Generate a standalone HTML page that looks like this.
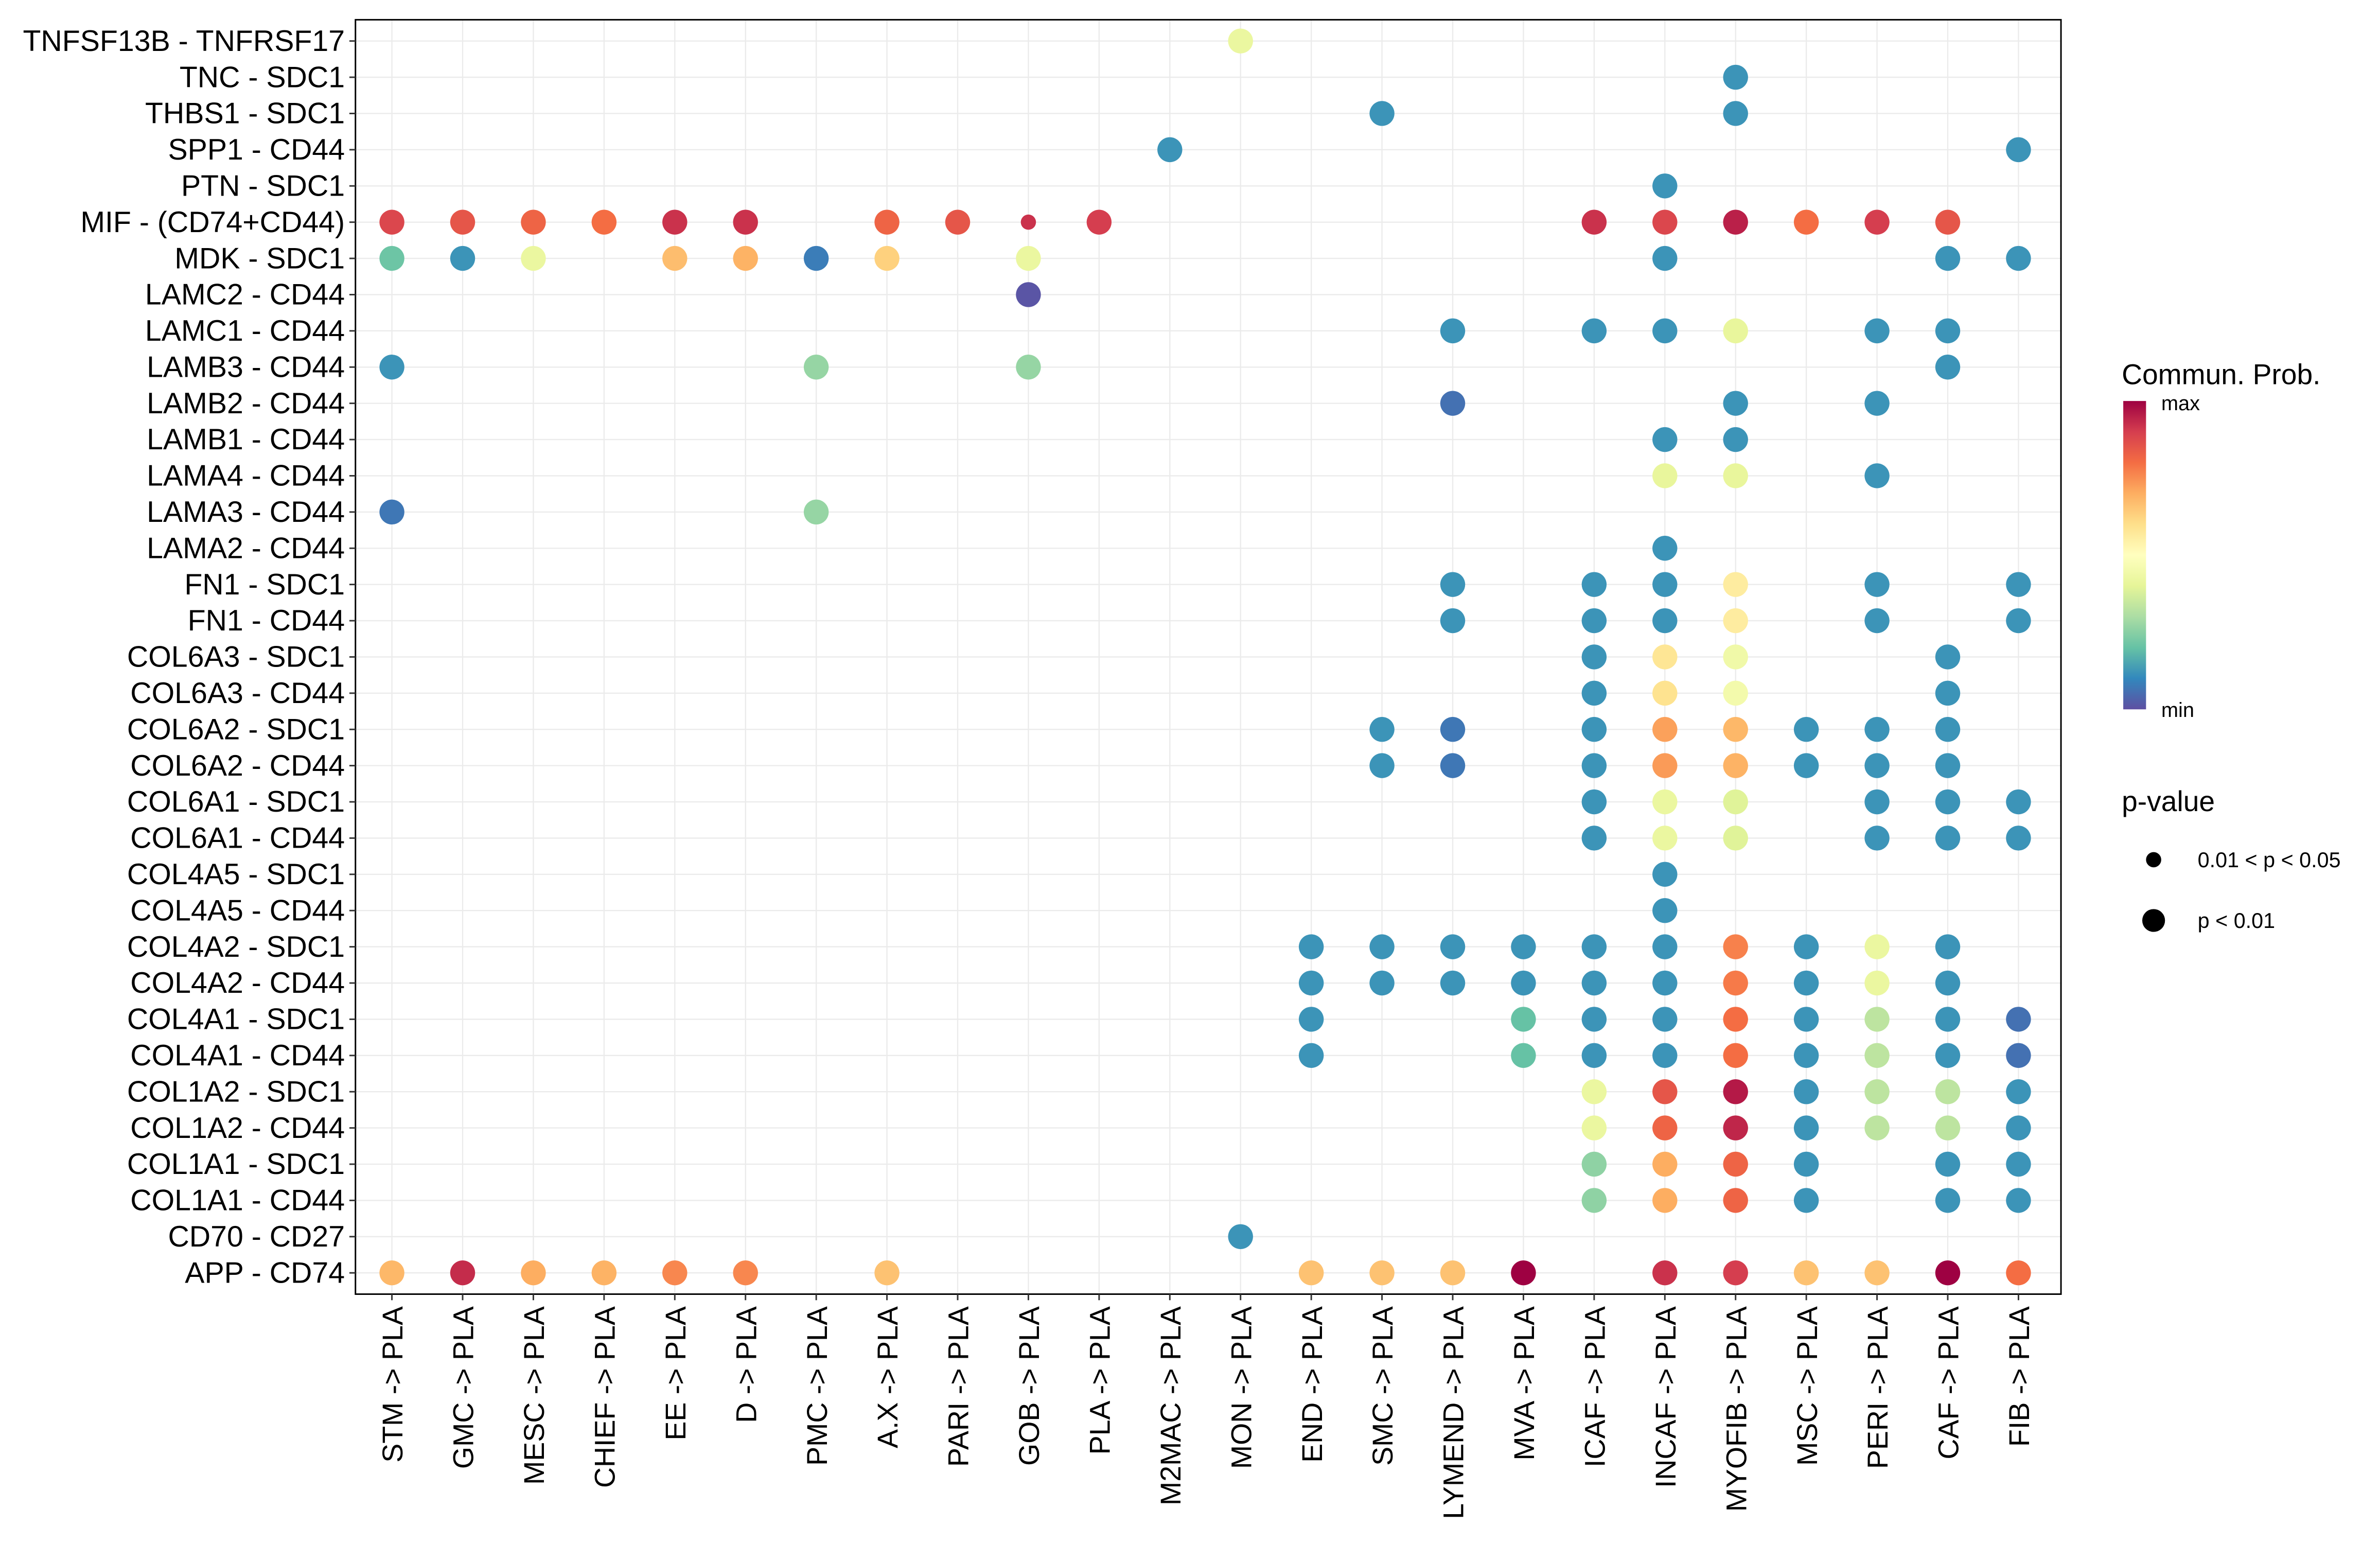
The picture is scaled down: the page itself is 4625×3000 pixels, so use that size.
<!DOCTYPE html>
<html><head><meta charset="utf-8"><style>
html,body{margin:0;padding:0;background:#fff;}
svg{display:block;font-family:"Liberation Sans",Arial,sans-serif;}
</style></head><body>
<svg id="chart" width="4625" height="3000" viewBox="0 0 1567 1016.5" xmlns="http://www.w3.org/2000/svg">
<defs>
<linearGradient id="cbar" x1="0" y1="1" x2="0" y2="0">
<stop offset="0" stop-color="#5e4fa2"/><stop offset="0.1" stop-color="#3288bd"/><stop offset="0.2" stop-color="#66c2a5"/><stop offset="0.3" stop-color="#abdda4"/><stop offset="0.4" stop-color="#e6f598"/><stop offset="0.5" stop-color="#ffffbf"/><stop offset="0.6" stop-color="#fee08b"/><stop offset="0.7" stop-color="#fdae61"/><stop offset="0.8" stop-color="#f46d43"/><stop offset="0.9" stop-color="#d53e4f"/><stop offset="1" stop-color="#9e0142"/>
</linearGradient>
</defs>
<g id="grid"></g>
<rect x="234" y="13" width="1123" height="839" fill="none" stroke="#000" stroke-width="1"/>
<g id="dots"></g>
<g id="ylab"></g>
<g id="xlab"></g>
<g>
<text x="1397" y="253" font-size="18.7">Commun. Prob.</text>
<rect x="1398" y="264" width="15" height="203" fill="url(#cbar)"/>
<text x="1423" y="270" font-size="13.5">max</text>
<text x="1423" y="472" font-size="13.5">min</text>
</g>
<g>
<text x="1397" y="534" font-size="18.7">p-value</text>
<circle cx="1418" cy="566" r="5" fill="#000"/>
<text x="1447" y="571" font-size="14">0.01 &lt; p &lt; 0.05</text>
<circle cx="1418" cy="606" r="7.5" fill="#000"/>
<text x="1447" y="611" font-size="14">p &lt; 0.01</text>
</g>
</svg>
<script>
const columns=["STM","GMC","MESC","CHIEF","EE","D","PMC","A.X","PARI","GOB","PLA","M2MAC","MON","END","SMC","LYMEND","MVA","ICAF","INCAF","MYOFIB","MSC","PERI","CAF","FIB"];
const rows=["TNFSF13B - TNFRSF17","TNC - SDC1","THBS1 - SDC1","SPP1 - CD44","PTN - SDC1","MIF - (CD74+CD44)","MDK - SDC1","LAMC2 - CD44","LAMC1 - CD44","LAMB3 - CD44","LAMB2 - CD44","LAMB1 - CD44","LAMA4 - CD44","LAMA3 - CD44","LAMA2 - CD44","FN1 - SDC1","FN1 - CD44","COL6A3 - SDC1","COL6A3 - CD44","COL6A2 - SDC1","COL6A2 - CD44","COL6A1 - SDC1","COL6A1 - CD44","COL4A5 - SDC1","COL4A5 - CD44","COL4A2 - SDC1","COL4A2 - CD44","COL4A1 - SDC1","COL4A1 - CD44","COL1A2 - SDC1","COL1A2 - CD44","COL1A1 - SDC1","COL1A1 - CD44","CD70 - CD27","APP - CD74"];
// each entry: [row, column, prob(0..1), significant-strong(1) or weak(0)]
const points=[
["TNFSF13B - TNFRSF17","MON",.42,1],
["TNC - SDC1","MYOFIB",.12,1],
["THBS1 - SDC1","SMC",.12,1],["THBS1 - SDC1","MYOFIB",.12,1],
["SPP1 - CD44","M2MAC",.12,1],["SPP1 - CD44","FIB",.12,1],
["PTN - SDC1","INCAF",.12,1],
["MIF - (CD74+CD44)","STM",.88,1],["MIF - (CD74+CD44)","GMC",.85,1],["MIF - (CD74+CD44)","MESC",.82,1],["MIF - (CD74+CD44)","CHIEF",.8,1],["MIF - (CD74+CD44)","EE",.92,1],["MIF - (CD74+CD44)","D",.92,1],["MIF - (CD74+CD44)","A.X",.82,1],["MIF - (CD74+CD44)","PARI",.85,1],["MIF - (CD74+CD44)","GOB",.92,0],["MIF - (CD74+CD44)","PLA",.9,1],["MIF - (CD74+CD44)","ICAF",.92,1],["MIF - (CD74+CD44)","INCAF",.88,1],["MIF - (CD74+CD44)","MYOFIB",.95,1],["MIF - (CD74+CD44)","MSC",.8,1],["MIF - (CD74+CD44)","PERI",.9,1],["MIF - (CD74+CD44)","CAF",.85,1],
["MDK - SDC1","STM",.21,1],["MDK - SDC1","GMC",.12,1],["MDK - SDC1","MESC",.42,1],["MDK - SDC1","EE",.67,1],["MDK - SDC1","D",.69,1],["MDK - SDC1","PMC",.08,1],["MDK - SDC1","A.X",.63,1],["MDK - SDC1","GOB",.42,1],["MDK - SDC1","INCAF",.12,1],["MDK - SDC1","CAF",.12,1],["MDK - SDC1","FIB",.12,1],
["LAMC2 - CD44","GOB",.01,1],
["LAMC1 - CD44","LYMEND",.12,1],["LAMC1 - CD44","ICAF",.12,1],["LAMC1 - CD44","INCAF",.12,1],["LAMC1 - CD44","MYOFIB",.41,1],["LAMC1 - CD44","PERI",.12,1],["LAMC1 - CD44","CAF",.12,1],
["LAMB3 - CD44","STM",.12,1],["LAMB3 - CD44","PMC",.27,1],["LAMB3 - CD44","GOB",.27,1],["LAMB3 - CD44","CAF",.12,1],
["LAMB2 - CD44","LYMEND",.06,1],["LAMB2 - CD44","MYOFIB",.12,1],["LAMB2 - CD44","PERI",.12,1],
["LAMB1 - CD44","INCAF",.12,1],["LAMB1 - CD44","MYOFIB",.12,1],
["LAMA4 - CD44","INCAF",.41,1],["LAMA4 - CD44","MYOFIB",.41,1],["LAMA4 - CD44","PERI",.12,1],
["LAMA3 - CD44","STM",.07,1],["LAMA3 - CD44","PMC",.27,1],
["LAMA2 - CD44","INCAF",.12,1],
["FN1 - SDC1","LYMEND",.12,1],["FN1 - SDC1","ICAF",.12,1],["FN1 - SDC1","INCAF",.12,1],["FN1 - SDC1","MYOFIB",.56,1],["FN1 - SDC1","PERI",.12,1],["FN1 - SDC1","FIB",.12,1],
["FN1 - CD44","LYMEND",.12,1],["FN1 - CD44","ICAF",.12,1],["FN1 - CD44","INCAF",.12,1],["FN1 - CD44","MYOFIB",.56,1],["FN1 - CD44","PERI",.12,1],["FN1 - CD44","FIB",.12,1],
["COL6A3 - SDC1","ICAF",.12,1],["COL6A3 - SDC1","INCAF",.58,1],["COL6A3 - SDC1","MYOFIB",.44,1],["COL6A3 - SDC1","CAF",.12,1],
["COL6A3 - CD44","ICAF",.12,1],["COL6A3 - CD44","INCAF",.59,1],["COL6A3 - CD44","MYOFIB",.45,1],["COL6A3 - CD44","CAF",.12,1],
["COL6A2 - SDC1","SMC",.12,1],["COL6A2 - SDC1","LYMEND",.07,1],["COL6A2 - SDC1","ICAF",.12,1],["COL6A2 - SDC1","INCAF",.72,1],["COL6A2 - SDC1","MYOFIB",.68,1],["COL6A2 - SDC1","MSC",.12,1],["COL6A2 - SDC1","PERI",.12,1],["COL6A2 - SDC1","CAF",.12,1],
["COL6A2 - CD44","SMC",.12,1],["COL6A2 - CD44","LYMEND",.07,1],["COL6A2 - CD44","ICAF",.12,1],["COL6A2 - CD44","INCAF",.73,1],["COL6A2 - CD44","MYOFIB",.69,1],["COL6A2 - CD44","MSC",.12,1],["COL6A2 - CD44","PERI",.12,1],["COL6A2 - CD44","CAF",.12,1],
["COL6A1 - SDC1","ICAF",.12,1],["COL6A1 - SDC1","INCAF",.42,1],["COL6A1 - SDC1","MYOFIB",.39,1],["COL6A1 - SDC1","PERI",.12,1],["COL6A1 - SDC1","CAF",.12,1],["COL6A1 - SDC1","FIB",.12,1],
["COL6A1 - CD44","ICAF",.12,1],["COL6A1 - CD44","INCAF",.42,1],["COL6A1 - CD44","MYOFIB",.39,1],["COL6A1 - CD44","PERI",.12,1],["COL6A1 - CD44","CAF",.12,1],["COL6A1 - CD44","FIB",.12,1],
["COL4A5 - SDC1","INCAF",.12,1],["COL4A5 - CD44","INCAF",.12,1],
["COL4A2 - SDC1","END",.12,1],["COL4A2 - SDC1","SMC",.12,1],["COL4A2 - SDC1","LYMEND",.12,1],["COL4A2 - SDC1","MVA",.12,1],["COL4A2 - SDC1","ICAF",.12,1],["COL4A2 - SDC1","INCAF",.12,1],["COL4A2 - SDC1","MYOFIB",.77,1],["COL4A2 - SDC1","MSC",.12,1],["COL4A2 - SDC1","PERI",.42,1],["COL4A2 - SDC1","CAF",.12,1],
["COL4A2 - CD44","END",.12,1],["COL4A2 - CD44","SMC",.12,1],["COL4A2 - CD44","LYMEND",.12,1],["COL4A2 - CD44","MVA",.12,1],["COL4A2 - CD44","ICAF",.12,1],["COL4A2 - CD44","INCAF",.12,1],["COL4A2 - CD44","MYOFIB",.78,1],["COL4A2 - CD44","MSC",.12,1],["COL4A2 - CD44","PERI",.42,1],["COL4A2 - CD44","CAF",.12,1],
["COL4A1 - SDC1","END",.12,1],["COL4A1 - SDC1","MVA",.2,1],["COL4A1 - SDC1","ICAF",.12,1],["COL4A1 - SDC1","INCAF",.12,1],["COL4A1 - SDC1","MYOFIB",.8,1],["COL4A1 - SDC1","MSC",.12,1],["COL4A1 - SDC1","PERI",.33,1],["COL4A1 - SDC1","CAF",.12,1],["COL4A1 - SDC1","FIB",.06,1],
["COL4A1 - CD44","END",.12,1],["COL4A1 - CD44","MVA",.2,1],["COL4A1 - CD44","ICAF",.12,1],["COL4A1 - CD44","INCAF",.12,1],["COL4A1 - CD44","MYOFIB",.8,1],["COL4A1 - CD44","MSC",.12,1],["COL4A1 - CD44","PERI",.33,1],["COL4A1 - CD44","CAF",.12,1],["COL4A1 - CD44","FIB",.06,1],
["COL1A2 - SDC1","ICAF",.42,1],["COL1A2 - SDC1","INCAF",.85,1],["COL1A2 - SDC1","MYOFIB",.96,1],["COL1A2 - SDC1","MSC",.12,1],["COL1A2 - SDC1","PERI",.33,1],["COL1A2 - SDC1","CAF",.33,1],["COL1A2 - SDC1","FIB",.12,1],
["COL1A2 - CD44","ICAF",.42,1],["COL1A2 - CD44","INCAF",.82,1],["COL1A2 - CD44","MYOFIB",.94,1],["COL1A2 - CD44","MSC",.12,1],["COL1A2 - CD44","PERI",.33,1],["COL1A2 - CD44","CAF",.33,1],["COL1A2 - CD44","FIB",.12,1],
["COL1A1 - SDC1","ICAF",.26,1],["COL1A1 - SDC1","INCAF",.7,1],["COL1A1 - SDC1","MYOFIB",.82,1],["COL1A1 - SDC1","MSC",.12,1],["COL1A1 - SDC1","CAF",.12,1],["COL1A1 - SDC1","FIB",.12,1],
["COL1A1 - CD44","ICAF",.26,1],["COL1A1 - CD44","INCAF",.7,1],["COL1A1 - CD44","MYOFIB",.82,1],["COL1A1 - CD44","MSC",.12,1],["COL1A1 - CD44","CAF",.12,1],["COL1A1 - CD44","FIB",.12,1],
["CD70 - CD27","MON",.12,1],
["APP - CD74","STM",.68,1],["APP - CD74","GMC",.93,1],["APP - CD74","MESC",.7,1],["APP - CD74","CHIEF",.69,1],["APP - CD74","EE",.76,1],["APP - CD74","D",.76,1],["APP - CD74","A.X",.66,1],["APP - CD74","END",.66,1],["APP - CD74","SMC",.66,1],["APP - CD74","LYMEND",.66,1],["APP - CD74","MVA",1,1],["APP - CD74","INCAF",.92,1],["APP - CD74","MYOFIB",.9,1],["APP - CD74","MSC",.66,1],["APP - CD74","PERI",.66,1],["APP - CD74","CAF",1,1],["APP - CD74","FIB",.8,1]
];
const NS="http://www.w3.org/2000/svg";
const x0=258,x1=1329,y0=27,y1=838;
function xScale(c){return x0+columns.indexOf(c)*(x1-x0)/(columns.length-1);}
function yScale(r){return y0+rows.indexOf(r)*(y1-y0)/(rows.length-1);}
const stops=["#5e4fa2","#3288bd","#66c2a5","#abdda4","#e6f598","#ffffbf","#fee08b","#fdae61","#f46d43","#d53e4f","#9e0142"];
function hex(h){return [1,3,5].map(i=>parseInt(h.substr(i,2),16));}
function color(v){v=Math.max(0,Math.min(1,v));const p=v*(stops.length-1);const i=Math.min(Math.floor(p),stops.length-2);const t=p-i;const a=hex(stops[i]),b=hex(stops[i+1]);return "rgb("+a.map((c,k)=>Math.round(c+(b[k]-c)*t)).join(",")+")";}
const grid=document.getElementById("grid"),dots=document.getElementById("dots"),yl=document.getElementById("ylab"),xl=document.getElementById("xlab");
columns.forEach(c=>{const x=xScale(c);
 const l=document.createElementNS(NS,"line");
 
 
 l.setAttribute("x1",x);l.setAttribute("x2",x);l.setAttribute("y1",13);l.setAttribute("y2",852);l.setAttribute("stroke","#ebebeb");l.setAttribute("stroke-width","0.8");grid.appendChild(l);
 const tk=document.createElementNS(NS,"line");
 
 
 tk.setAttribute("x1",x);tk.setAttribute("x2",x);tk.setAttribute("y1",852);tk.setAttribute("y2",856);tk.setAttribute("stroke","#333");xl.appendChild(tk);
 const t=document.createElementNS(NS,"text");
 
 
 t.setAttribute("transform","translate("+(x+7)+",860) rotate(-90)");t.setAttribute("text-anchor","end");t.setAttribute("font-size","18.8");t.textContent=c+" -> PLA";xl.appendChild(t);
});
rows.forEach(r=>{const y=yScale(r);
 const l=document.createElementNS(NS,"line");
 
 
 l.setAttribute("x1",234);l.setAttribute("x2",1357);l.setAttribute("y1",y);l.setAttribute("y2",y);l.setAttribute("stroke","#ebebeb");l.setAttribute("stroke-width","0.8");grid.appendChild(l);
 const tk=document.createElementNS(NS,"line");
 
 
 tk.setAttribute("x1",230);tk.setAttribute("x2",234);tk.setAttribute("y1",y);tk.setAttribute("y2",y);tk.setAttribute("stroke","#333");yl.appendChild(tk);
 const t=document.createElementNS(NS,"text");
 
 
 t.setAttribute("x",227);t.setAttribute("y",y+6.5);t.setAttribute("text-anchor","end");t.setAttribute("font-size","19.4");t.textContent=r;yl.appendChild(t);
});
points.forEach(p=>{
 const c=document.createElementNS(NS,"circle");
 
 
 c.setAttribute("cx",xScale(p[1]));c.setAttribute("cy",yScale(p[0]));c.setAttribute("r",p[3]?8.2:5);c.setAttribute("fill",color(p[2]));dots.appendChild(c);
});
</script>
</body></html>
